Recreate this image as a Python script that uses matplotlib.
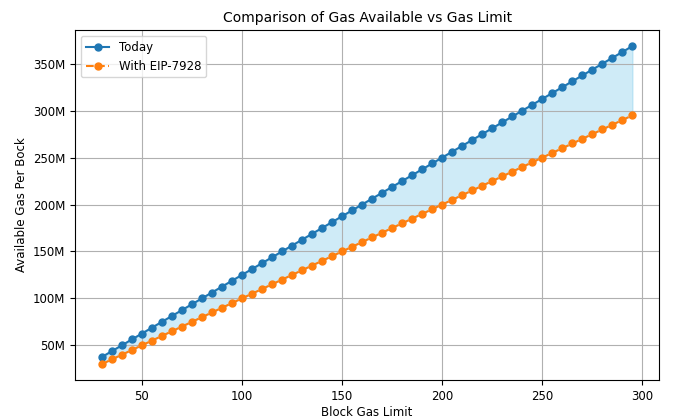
import matplotlib
matplotlib.use("Agg")
import matplotlib.pyplot as plt
from matplotlib.ticker import FuncFormatter

gas_limit = [30, 35, 40, 45, 50, 55, 60, 65, 70, 75, 80, 85, 90, 95, 100, 105, 110, 115, 120, 125,
             130, 135, 140, 145, 150, 155, 160, 165, 170, 175, 180, 185, 190, 195, 200, 205, 210, 215,
             220, 225, 230, 235, 240, 245, 250, 255, 260, 265, 270, 275, 280, 285, 290, 295]
today = [37.5, 43.75, 50.0, 56.25, 62.5, 68.75, 75.0, 81.25, 87.5, 93.75, 100.0, 106.25, 112.5, 118.75,
         125.0, 131.25, 137.5, 143.75, 150.0, 156.25, 162.5, 168.75, 175.0, 181.25, 187.5, 193.75,
         200.0, 206.25, 212.5, 218.75, 225.0, 231.25, 237.5, 243.75, 250.0, 256.25, 262.5, 268.75,
         275.0, 281.25, 287.5, 293.75, 300.0, 306.25, 312.5, 318.75, 325.0, 331.25, 337.5, 343.75,
         350.0, 356.25, 362.5, 368.75]
eip7928 = [30, 35, 40, 45, 50, 55, 60, 65, 70, 75, 80, 85, 90, 95, 100, 105, 110, 115, 120, 125,
           130, 135, 140, 145, 150, 155, 160, 165, 170, 175, 180, 185, 190, 195, 200, 205, 210, 215,
           220, 225, 230, 235, 240, 245, 250, 255, 260, 265, 270, 275, 280, 285, 290, 295]

fig = plt.figure(figsize=(6.9, 4.19), dpi=100)
ax = fig.add_axes([0.109, 0.093, 0.846, 0.835])
ax.plot(gas_limit, today, "-o", color="#1f77b4", markersize=5, label="Today")
ax.plot(gas_limit, eip7928, "--o", color="#ff7f0e", markersize=5, label="With EIP-7928")
ax.fill_between(gas_limit, eip7928, today, color="skyblue", alpha=0.4)
ax.yaxis.set_major_formatter(FuncFormatter(lambda v, p: f"{int(v)}M"))
ax.set_xlabel("Block Gas Limit", fontsize=8.5, labelpad=2)
ax.set_ylabel("Available Gas Per Bock", fontsize=8.5)
ax.set_title("Comparison of Gas Available vs Gas Limit", fontsize=10)
ax.tick_params(labelsize=8.5)
ax.grid(True)
ax.legend(loc="upper left", fontsize=8.5)
fig.savefig("out.png", dpi=100)
